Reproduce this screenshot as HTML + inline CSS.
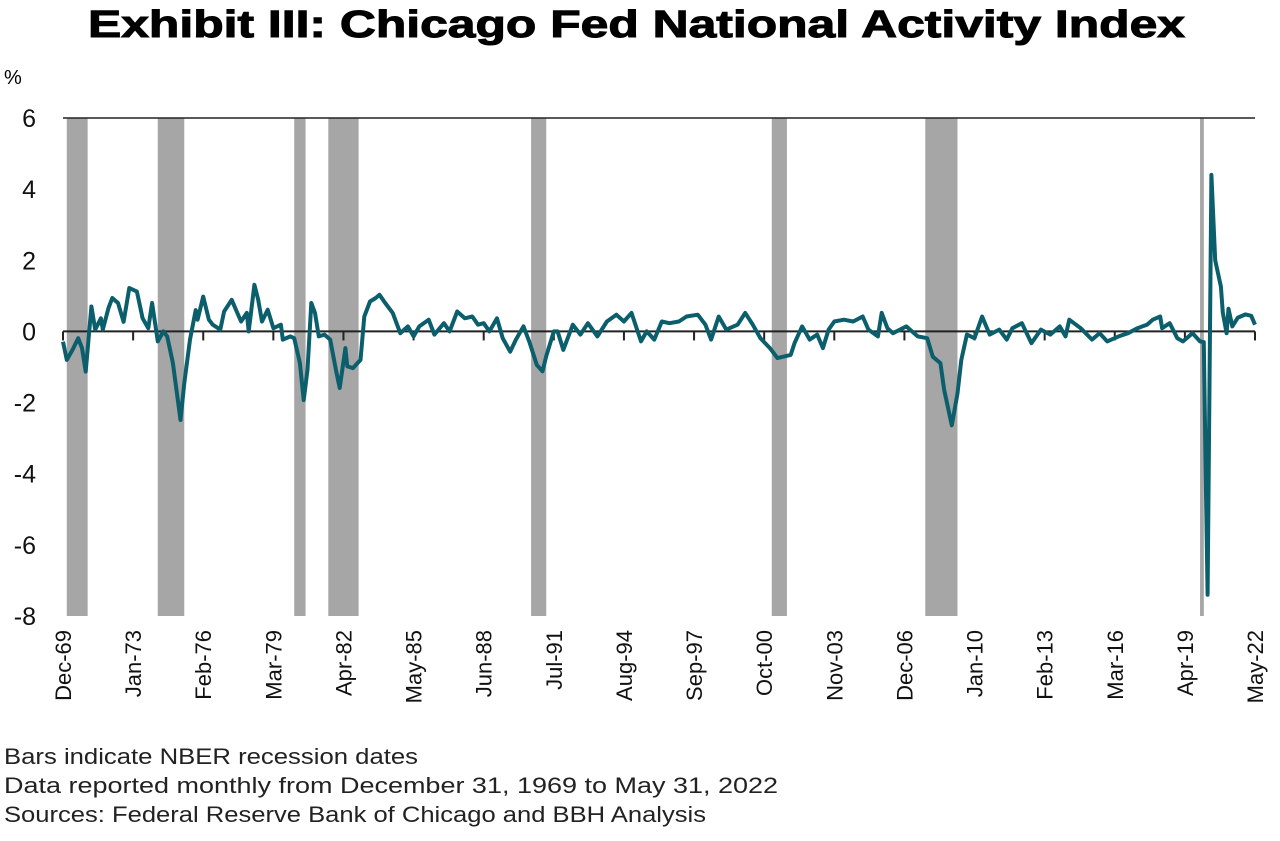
<!DOCTYPE html>
<html><head><meta charset="utf-8"><style>
body{margin:0;background:#fff;width:1280px;height:836px;overflow:hidden;font-family:"Liberation Sans",Arial,sans-serif}
</style></head><body>
<svg width="1280" height="836" xmlns="http://www.w3.org/2000/svg">
<text x="88" y="37" font-size="38" font-weight="bold" textLength="1097" lengthAdjust="spacingAndGlyphs" stroke="#000" stroke-width="1">Exhibit III: Chicago Fed National Activity Index</text>
<text x="4" y="84" font-size="20">%</text>
<g id="rec"></g><g id="axes"></g><g id="line"></g>
<text x="4" y="764" font-size="22" fill="#222" textLength="414" lengthAdjust="spacingAndGlyphs">Bars indicate NBER recession dates</text>
<text x="4" y="793" font-size="22" fill="#222" textLength="774" lengthAdjust="spacingAndGlyphs">Data reported monthly from December 31, 1969 to May 31, 2022</text>
<text x="4" y="822" font-size="22" fill="#222" textLength="702" lengthAdjust="spacingAndGlyphs">Sources: Federal Reserve Bank of Chicago and BBH Analysis</text>
</svg>
<script>
const recStart=[2,50,122,140,247,374,455,600];
const recEnd=[13,64,128,156,255,382,472,602];
const yTicks=[6,4,2,0,-2,-4,-6,-8];
const xTickLabels=["Dec-69","Jan-73","Feb-76","Mar-79","Apr-82","May-85","Jun-88","Jul-91","Aug-94","Sep-97","Oct-00","Nov-03","Dec-06","Jan-10","Feb-13","Mar-16","Apr-19","May-22"];
const months=[0,2,5,8,10,12,15,17,20,21,24,26,29,32,35,39,42,45,47,50,53,55,58,62,64,67,70,71,74,77,79,83,85,89,92,94,97,98,101,103,105,108,111,115,116,120,122,125,127,129,131,133,135,138,141,144,146,149,150,153,157,159,162,165,167,170,174,178,182,185,188,193,196,201,204,208,212,216,219,222,225,229,232,236,239,243,246,250,253,255,259,261,264,269,273,277,282,287,292,296,300,305,308,312,316,320,325,329,335,339,342,346,350,356,360,364,368,373,377,384,386,390,394,398,401,404,407,412,417,422,425,430,432,435,438,445,451,456,459,463,465,469,472,474,477,481,485,489,494,498,501,506,511,516,521,526,529,531,537,543,547,551,557,562,567,572,575,579,580,584,588,591,596,600,602,603,604,605,606,608,611,612,614,615,617,620,624,627,629];
const values=[-0.29,-0.8,-0.52,-0.19,-0.47,-1.13,0.7,0.05,0.37,0.05,0.66,0.94,0.8,0.27,1.22,1.12,0.37,0.09,0.8,-0.28,0,-0.14,-0.89,-2.49,-1.45,-0.23,0.6,0.33,0.98,0.33,0.19,0.05,0.56,0.89,0.52,0.28,0.52,0,1.31,0.89,0.28,0.61,0.09,0.19,-0.23,-0.14,-0.19,-0.89,-1.93,-1.08,0.8,0.52,-0.14,-0.09,-0.23,-1.08,-1.59,-0.47,-0.98,-1.03,-0.8,0.42,0.84,0.94,1.03,0.8,0.52,-0.05,0.14,-0.14,0.14,0.33,-0.09,0.23,0,0.56,0.37,0.42,0.19,0.23,0,0.37,-0.19,-0.57,-0.23,0.14,-0.28,-0.94,-1.12,-0.7,0,0,-0.52,0.19,-0.09,0.23,-0.14,0.28,0.47,0.28,0.52,-0.28,0,-0.23,0.28,0.23,0.28,0.42,0.47,0.19,-0.23,0.42,0.05,0.19,0.52,0.19,-0.19,-0.47,-0.75,-0.66,-0.33,0.14,-0.23,-0.09,-0.47,0.05,0.28,0.33,0.28,0.42,0.05,-0.14,0.52,0.09,-0.05,0.14,-0.14,-0.19,-0.71,-0.89,-1.65,-2.64,-1.74,-0.8,-0.09,-0.19,0.42,-0.09,0.05,-0.23,0.09,0.23,-0.33,0.05,-0.09,0.14,-0.14,0.33,0.09,-0.23,-0.05,-0.28,-0.14,-0.05,0.09,0.19,0.33,0.42,0.09,0.23,-0.19,-0.28,-0.05,-0.28,-0.3,-4.0,-7.4,-1.5,4.4,2.0,1.26,0.53,-0.05,0.64,0.14,0.39,0.48,0.44,0.19];
const NS="http://www.w3.org/2000/svg";
const X0=63,X1=1255,Y0=118,Y1=616,NM=629;
const xs=m=>X0+(X1-X0)*m/NM;
const ys=v=>Y0+(6-v)*(Y1-Y0)/14;
function mk(tag,attrs,parent,txt){const e=document.createElementNS(NS,tag);for(const k in attrs)e.setAttribute(k,attrs[k]);if(txt!==undefined)e.textContent=txt;parent.appendChild(e);return e;}
const recG=document.getElementById('rec'),axesG=document.getElementById('axes'),lineG=document.getElementById('line');
recStart.forEach((s,i)=>{const r=mk('rect',{x:xs(s),y:Y0,width:Math.max(3,xs(recEnd[i])-xs(s)),height:Y1-Y0,fill:'#a6a6a6'},recG);

});
const topLine=mk('line',{x1:X0,x2:X1,y1:ys(6),y2:ys(6),stroke:'#222','stroke-width':1.5},axesG);


const zeroLine=mk('line',{x1:X0,x2:X1,y1:ys(0),y2:ys(0),stroke:'#222','stroke-width':2},axesG);


yTicks.forEach(v=>{const t=mk('text',{x:36,y:ys(v)+9,'text-anchor':'end','font-size':25,fill:'#111'},axesG,String(v));

});
xTickLabels.forEach((l,i)=>{const m=i*37,x=xs(m);
const tk=mk('line',{x1:x,x2:x,y1:ys(0),y2:ys(0)+9,stroke:'#222','stroke-width':2},axesG);


const t=mk('text',{x:0,y:0,'text-anchor':'end','font-size':22,fill:'#111',transform:`translate(${x+8},630) rotate(-90)`},axesG,l);

});
const n=Math.min(months.length,values.length);
const pts=[];for(let i=0;i<n;i++)pts.push(xs(months[i]).toFixed(1)+','+ys(values[i]).toFixed(1));
const p=mk('polyline',{points:pts.join(' '),fill:'none',stroke:'#0b5f6c','stroke-width':4,'stroke-linejoin':'round'},lineG);


</script>
</body></html>
